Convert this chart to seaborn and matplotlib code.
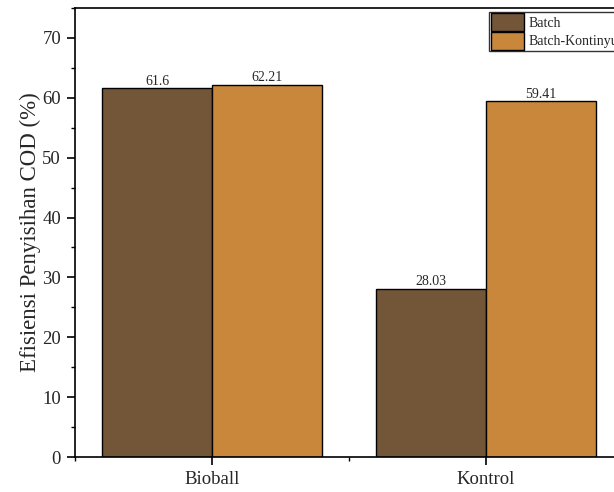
import matplotlib
matplotlib.use("Agg")
import matplotlib.pyplot as plt
import seaborn as sns
import pandas as pd
from matplotlib.ticker import MultipleLocator

categories = ["Bioball", "Kontrol"]
series = ["Batch", "Batch-Kontinyu"]
batch = [61.6, 28.03]
kontinyu = [62.21, 59.41]
labels_batch = ["61.6", "28.03"]
labels_kontinyu = ["62.21", "59.41"]
colors = ["#735637", "#C8873B"]

df = pd.DataFrame({
    "cat": categories * 2,
    "series": [series[0]] * 2 + [series[1]] * 2,
    "val": batch + kontinyu,
})

sns.set_style("white")
plt.rcParams["font.family"] = ["Liberation Serif", "DejaVu Serif"]

W, H = 614, 492
fig = plt.figure(figsize=(W / 100, H / 100), dpi=100)
ax = fig.add_axes([75 / W, 1 - 457 / H, (623 - 75) / W, (457 - 8) / H])

sns.barplot(data=df, x="cat", y="val", hue="series", palette=colors,
            width=0.8, edgecolor="black", linewidth=1.0, saturation=1,
            ax=ax, legend=True)

for cont, labs in zip(ax.containers, [labels_batch, labels_kontinyu]):
    ax.bar_label(cont, labels=labs, fontsize=10, padding=0.5)

ax.set_xlim(-0.5, 1.5)
ax.set_ylim(0, 75)
ax.yaxis.set_major_locator(MultipleLocator(10))
ax.yaxis.set_minor_locator(MultipleLocator(5))
ax.xaxis.set_minor_locator(MultipleLocator(0.5))
ax.tick_params(axis="both", which="major", direction="out", length=6, width=1.2,
               labelsize=13.5, left=True, bottom=True, color="black", pad=4)
ax.tick_params(axis="both", which="minor", direction="out", length=3, width=1.0,
               left=True, bottom=True, color="black")
ax.set_xlabel("")
ax.set_ylabel("Efisiensi Penyisihan COD (%)", fontsize=16.5, labelpad=1)
for s in ax.spines.values():
    s.set_color("black")
    s.set_linewidth(1.2)

leg = ax.legend(loc="upper right", bbox_to_anchor=(1.0, 0.998), fontsize=10,
                frameon=True, fancybox=False, edgecolor="black",
                handlelength=2.4, handleheight=1.6, borderpad=0.12,
                labelspacing=0.05, handletextpad=0.35, borderaxespad=0.2)
leg.get_frame().set_linewidth(1.0)

fig.savefig("out.png", dpi=100)
